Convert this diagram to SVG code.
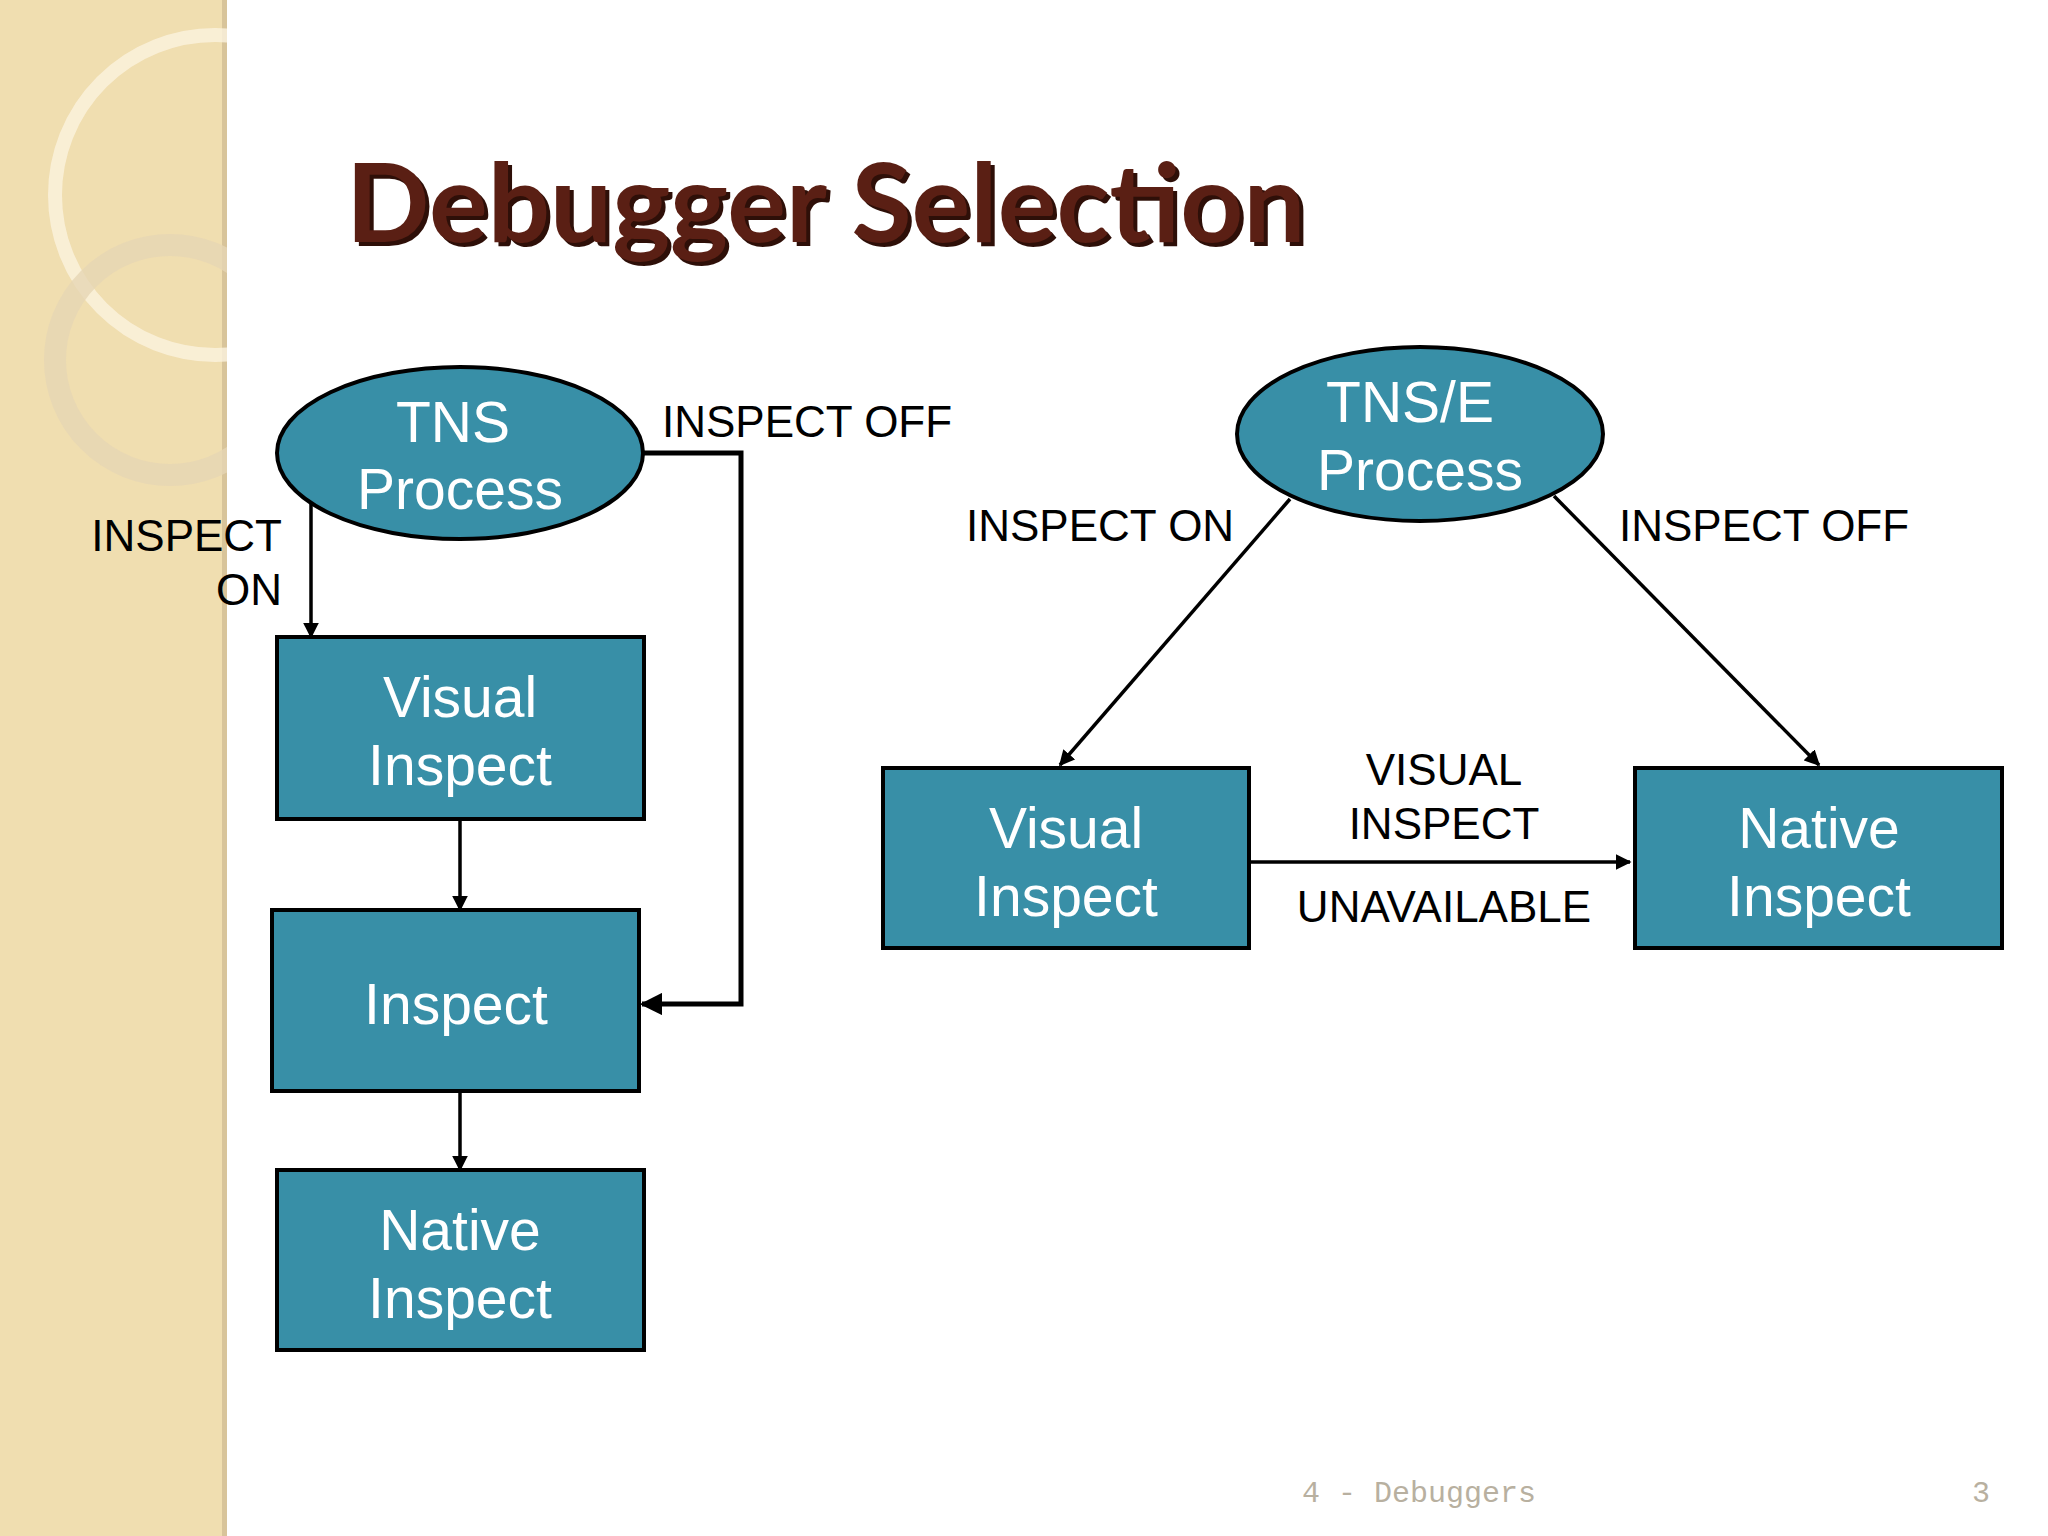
<svg xmlns="http://www.w3.org/2000/svg" width="2048" height="1536" viewBox="0 0 2048 1536">
<style>
.n{fill:#388fa7;stroke:#000;stroke-width:4}
.t{font-family:"Liberation Sans",Arial,sans-serif;font-size:57px;fill:#fff;text-anchor:middle}
.l{font-family:"Liberation Sans",Arial,sans-serif;font-size:44px;fill:#000}
.c{fill:none;stroke:#000;stroke-width:3.5}
.w{stroke-width:5}
</style>
<defs>
<marker id="a" viewBox="0 0 10 10" refX="9" refY="5" markerWidth="4.5" markerHeight="4.5" orient="auto"><path d="M0,0L10,5L0,10z" fill="#000"/></marker>
<clipPath id="band"><rect width="227" height="1536"/></clipPath>
</defs>
<rect width="2048" height="1536" fill="#fff"/>
<rect width="227" height="1536" fill="#f0deb0"/>
<rect x="222" width="5" height="1536" fill="#d8c49a"/>
<g clip-path="url(#band)">
<circle cx="215" cy="195" r="160" fill="none" stroke="#fbf3df" stroke-width="14" opacity="0.8"/>
<circle cx="170" cy="360" r="115" fill="none" stroke="#e6d6b4" stroke-width="22" opacity="0.8"/>
</g>
<text x="346" y="242" font-family="Lato,'Open Sans',sans-serif" font-weight="bold" font-size="110" fill="#2e0f08" transform="translate(4,4)">Debugger Selection</text>
<text x="346" y="242" font-family="Lato,'Open Sans',sans-serif" font-weight="bold" font-size="110" fill="#5a1f14">Debugger Selection</text>
<g id="connectors">
<path class="c" d="M311,503V637" marker-end="url(#a)"/>
<path class="c w" d="M644,453H741V1004H642" marker-end="url(#a)"/>
<path class="c" d="M460,819V910" marker-end="url(#a)"/>
<path class="c" d="M460,1091V1170" marker-end="url(#a)"/>
<path class="c" d="M1290,499L1060,765" marker-end="url(#a)"/>
<path class="c" d="M1554,496L1819,765" marker-end="url(#a)"/>
<path class="c" d="M1249,862H1630" marker-end="url(#a)"/>
<text class="l" x="662" y="437">INSPECT OFF</text>
<text class="l" x="282" y="551" text-anchor="end">INSPECT</text>
<text class="l" x="282" y="605" text-anchor="end">ON</text>
<text class="l" x="966" y="541">INSPECT ON</text>
<text class="l" x="1619" y="541">INSPECT OFF</text>
<text class="l" x="1444" y="785" text-anchor="middle">VISUAL</text>
<text class="l" x="1444" y="839" text-anchor="middle">INSPECT</text>
<text class="l" x="1444" y="922" text-anchor="middle">UNAVAILABLE</text>
</g>
<g id="tns"><ellipse class="n" cx="460" cy="453" rx="183" ry="86"/><text class="t" x="453" y="442">TNS</text><text class="t" x="460" y="509">Process</text></g>
<g id="vi1"><rect class="n" x="277" y="637" width="367" height="182"/><text class="t" x="460" y="717">Visual</text><text class="t" x="460" y="785">Inspect</text></g>
<g id="insp"><rect class="n" x="272" y="910" width="367" height="181"/><text class="t" x="456" y="1024">Inspect</text></g>
<g id="ni1"><rect class="n" x="277" y="1170" width="367" height="180"/><text class="t" x="460" y="1250">Native</text><text class="t" x="460" y="1318">Inspect</text></g>
<g id="tnse"><ellipse class="n" cx="1420" cy="434" rx="183" ry="87"/><text class="t" x="1410" y="422">TNS/E</text><text class="t" x="1420" y="490">Process</text></g>
<g id="vi2"><rect class="n" x="883" y="768" width="366" height="180"/><text class="t" x="1066" y="848">Visual</text><text class="t" x="1066" y="916">Inspect</text></g>
<g id="ni2"><rect class="n" x="1635" y="768" width="367" height="180"/><text class="t" x="1819" y="848">Native</text><text class="t" x="1819" y="916">Inspect</text></g>
<text x="1302" y="1502" font-family="'Liberation Mono','Courier New',monospace" font-size="30" fill="#b8b0a0">4 - Debuggers</text>
<text x="1972" y="1502" font-family="'Liberation Mono','Courier New',monospace" font-size="30" fill="#b8b0a0">3</text>
</svg>
